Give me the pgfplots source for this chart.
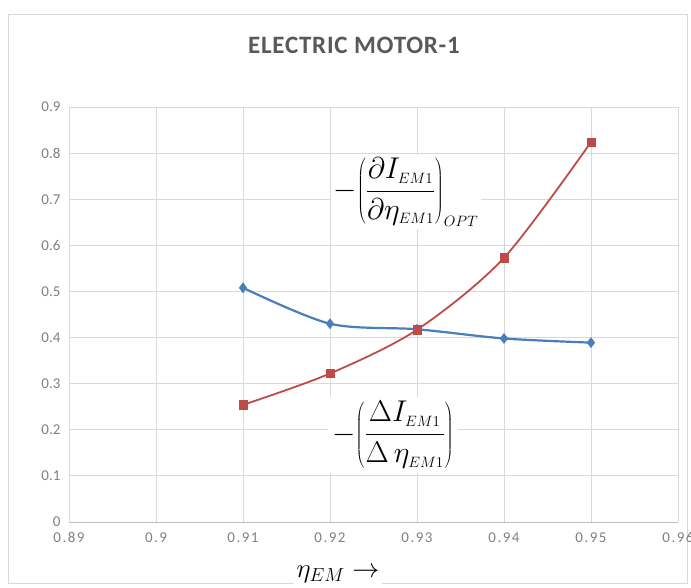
\RequirePackage{fix-cm}
\documentclass[border=0pt]{standalone}
\usepackage{pgfplots}
\pgfplotsset{compat=1.18}
\usepackage[no-math]{fontspec}
\setmainfont{Carlito}

\definecolor{gridgray}{HTML}{D9D9D9}
\definecolor{axisgray}{HTML}{BFBFBF}
\definecolor{ticktext}{HTML}{808080}
\definecolor{titletext}{HTML}{595959}
\definecolor{seriesblue}{HTML}{4A7EBB}
\definecolor{seriesred}{HTML}{BE4B48}

\newcommand{\sub}[1]{_{\scriptscriptstyle #1}}

\begin{document}
\begin{tikzpicture}[x=1pt,y=1pt]
\useasboundingbox (0,0) rectangle (691,587);
% chart frame
\draw[gridgray, line width=0.9pt] (8,4) rectangle (687,573);
% title
\node[font=\bfseries\fontsize{25}{30}\selectfont\addfontfeature{LetterSpace=3}, text=titletext] at (354,542) {ELECTRIC MOTOR-1};

\begin{axis}[
  at={(69pt,65pt)}, anchor=south west,
  scale only axis, width=609pt, height=415pt,
  xmin=0.89, xmax=0.96, ymin=0, ymax=0.9,
  xtick={0.89,0.90,0.91,0.92,0.93,0.94,0.95,0.96},
  ytick={0,0.1,0.2,0.3,0.4,0.5,0.6,0.7,0.8,0.9},
  /pgf/number format/assume math mode=true,
  xticklabel style={/pgf/number format/fixed, /pgf/number format/precision=2,
    font=\fontsize{15}{17}\selectfont\addfontfeature{LetterSpace=10}, text=ticktext, yshift=-7pt},
  yticklabel style={/pgf/number format/fixed, /pgf/number format/precision=1,
    font=\fontsize{15}{17}\selectfont, text=ticktext, xshift=-5pt},
  major tick length=0pt,
  grid=major,
  major grid style={gridgray, line width=0.9pt},
  axis x line*=bottom, axis y line*=left,
  x axis line style={axisgray, line width=1pt},
  y axis line style={gridgray, line width=0.9pt},
  clip=false,
]
% finite-difference ratio
\addplot[seriesblue, line width=2.2pt, smooth, tension=0.5,
  mark=diamond*, mark size=5pt, mark options={fill=seriesblue, line width=0.5pt}]
  coordinates {(0.91,0.508) (0.92,0.430) (0.93,0.418) (0.94,0.398) (0.95,0.389)};
% optimal derivative
\addplot[seriesred, line width=1.8pt, smooth, tension=0.5,
  mark=square*, mark size=4.2pt, mark options={fill=seriesred, line width=0.5pt}]
  coordinates {(0.91,0.254) (0.92,0.322) (0.93,0.417) (0.94,0.573) (0.95,0.824)};
\end{axis}

% curve labels
\node[fill=white, inner sep=3pt, font=\fontsize{30}{36}\selectfont] at (406,395)
  {$-\!\left(\displaystyle\frac{\partial I\sub{EM1}}{\partial \eta\sub{EM1}}\right)\sub{OPT}$};
\node[fill=white, inner sep=4pt, font=\fontsize{30}{36}\selectfont] at (393,152)
  {$-\!\left(\displaystyle\frac{\Delta I\sub{EM1}}{\Delta\, \eta\sub{EM1}}\right)$};

% x-axis label
\node[fill=white, anchor=north, inner sep=3pt, font=\fontsize{27}{32}\selectfont] at (338,24)
  {$\eta_{EM}\rightarrow$};
\end{tikzpicture}
\end{document}
